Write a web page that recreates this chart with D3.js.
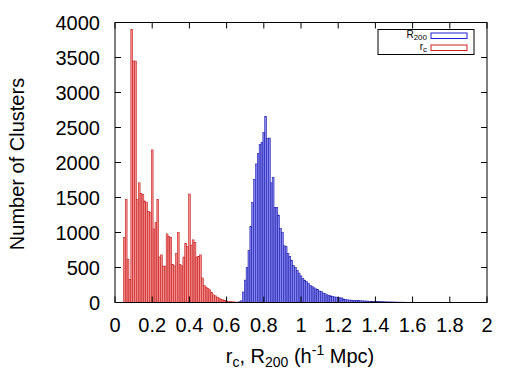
<!DOCTYPE html>
<html>
<head>
<meta charset="utf-8">
<script src="https://cdn.jsdelivr.net/npm/d3@7"></script>
<style>
  body { margin: 0; background: #fff; }
  text { font-family: "Liberation Sans", Arial, Helvetica, sans-serif; fill: #000; }
</style>
</head>
<body>
<div class="chart"></div>
<script>
// histogram bins are 0.01 wide, values are bin centres
var binWidth = 0.01;

// r_c counts, first bin centred on 0.05
var rcStart = 0.05;
var rcCounts = [930, 1470, 620, 330, 3900, 3450, 3450, 1470, 1710, 1560,
                1540, 1450, 1430, 1300, 1290, 2180, 1050, 1140, 1470, 650,
                680, 520, 520, 980, 940, 930, 540, 524, 700, 1000,
                540, 524, 650, 840, 800, 1550, 820, 895, 860, 650,
                660, 680, 350, 240, 220, 200, 180, 143, 110, 95,
                76, 62, 48, 38, 28, 20, 15, 12, 10, 8,
                6, 4];

// R200 counts, first bin centred on 0.67
var r200Start = 0.67;
var r200Counts = [10, 24, 150, 320, 500, 740, 1085, 1430, 1760, 1980,
                  2130, 2260, 2290, 2430, 2660, 2340, 2350, 1710, 1790, 1360,
                  1360, 1250, 1060, 1000, 810, 800, 700, 660, 600, 530,
                  500, 460, 420, 380, 340, 320, 300, 275, 240, 228,
                  210, 195, 185, 165, 155, 135, 125, 110, 100, 95,
                  90, 80, 76, 70, 67, 65, 50, 45, 38, 36,
                  34, 32, 30, 28, 27, 25, 24, 22, 21, 20,
                  18, 17, 16, 15, 14, 13, 12, 11, 10, 9,
                  9, 8, 7, 7, 6, 6, 5, 5, 4, 4,
                  3, 3, 2, 2];

var xTicks = [0, 0.2, 0.4, 0.6, 0.8, 1, 1.2, 1.4, 1.6, 1.8, 2];
var yTicks = [0, 500, 1000, 1500, 2000, 2500, 3000, 3500, 4000];

var W = 525, H = 391;
var margin = {top: 22.5, right: 38, bottom: 88.5, left: 115};

var svg = d3.select(".chart")
            .append("svg")
            .attr("width", W)
            .attr("height", H);

var x = d3.scaleLinear().domain([0, 2]).range([margin.left, W - margin.right]);
var y = d3.scaleLinear().domain([0, 4000]).range([H - margin.bottom, margin.top]);

function bins(start, counts) {
    return counts.map(function(c, i) {
        return {x: start + i * binWidth, n: c};
    });
}

function drawBars(data, fill, stroke) {
    svg.append("g")
        .selectAll("rect")
        .data(data)
        .enter()
        .append("rect")
        .attr("x", function(d) { return x(d.x - binWidth / 2); })
        .attr("width", function(d) { return x(binWidth) - x(0); })
        .attr("y", function(d) { return y(d.n); })
        .attr("height", function(d) { return y(0) - y(d.n); })
        .attr("fill", fill)
        .attr("stroke", stroke)
        .attr("stroke-width", 0.55);
}

drawBars(bins(rcStart, rcCounts), "#f58c8c", "#c01818");
drawBars(bins(r200Start, r200Counts), "#8282f6", "#1a1aa0");

// axes: ticks drawn inward, mirrored on top and right
var tickLen = 6;
var gAxis = svg.append("g").attr("stroke", "#000").attr("stroke-width", 1);

gAxis.selectAll("line.xb").data(xTicks).enter().append("line")
    .attr("x1", function(d) { return x(d); }).attr("x2", function(d) { return x(d); })
    .attr("y1", y(0)).attr("y2", y(0) - tickLen);
gAxis.selectAll("line.xt").data(xTicks).enter().append("line")
    .attr("x1", function(d) { return x(d); }).attr("x2", function(d) { return x(d); })
    .attr("y1", y(4000)).attr("y2", y(4000) + tickLen);
gAxis.selectAll("line.yl").data(yTicks).enter().append("line")
    .attr("x1", x(0)).attr("x2", x(0) + tickLen)
    .attr("y1", function(d) { return y(d); }).attr("y2", function(d) { return y(d); });
gAxis.selectAll("line.yr").data(yTicks).enter().append("line")
    .attr("x1", x(2)).attr("x2", x(2) - tickLen)
    .attr("y1", function(d) { return y(d); }).attr("y2", function(d) { return y(d); });

gAxis.append("rect")
    .attr("x", x(0)).attr("y", y(4000))
    .attr("width", x(2) - x(0)).attr("height", y(0) - y(4000))
    .attr("fill", "none");

// tick labels
svg.selectAll("text.xl").data(xTicks).enter().append("text")
    .attr("x", function(d) { return x(d); })
    .attr("y", y(0) + 29)
    .attr("text-anchor", "middle")
    .style("font-size", "20px")
    .text(function(d) { return d; });

svg.selectAll("text.yl").data(yTicks).enter().append("text")
    .attr("x", x(0) - 15)
    .attr("y", function(d) { return y(d) + 7; })
    .attr("text-anchor", "end")
    .style("font-size", "20px")
    .text(function(d) { return d; });

// axis titles
svg.append("text")
    .attr("transform", "translate(" + 24 + "," + 164 + ") rotate(-90)")
    .attr("text-anchor", "middle")
    .style("font-size", "20px")
    .text("Number of Clusters");

var xl = svg.append("text")
    .attr("x", 300)
    .attr("y", 363)
    .attr("text-anchor", "middle")
    .style("font-size", "20px");
xl.append("tspan").text("r");
xl.append("tspan").attr("dy", 4).style("font-size", "14px").text("c");
xl.append("tspan").attr("dy", -4).text(", R");
xl.append("tspan").attr("dy", 4).style("font-size", "14px").text("200");
xl.append("tspan").attr("dy", -4).text(" (h");
xl.append("tspan").attr("dy", -8).style("font-size", "14px").text("-1");
xl.append("tspan").attr("dy", 8).text(" Mpc)");

// legend
var leg = svg.append("g");
leg.append("rect")
    .attr("x", 378).attr("y", 29.5).attr("width", 96).attr("height", 25)
    .attr("fill", "#fff").attr("stroke", "#000").attr("stroke-width", 1);

var legItems = [
    {name: "R", sub: "200", stroke: "#2020d0"},
    {name: "r", sub: "c", stroke: "#d02020"}
];
legItems.forEach(function(d, i) {
    var yy = 36 + i * 12;
    var t = leg.append("text")
        .attr("x", 427).attr("y", yy + 1.5)
        .attr("text-anchor", "end")
        .style("font-size", "10px");
    t.append("tspan").text(d.name);
    t.append("tspan").attr("dy", 2.5).style("font-size", "8px").text(d.sub);
    leg.append("rect")
        .attr("x", 431).attr("y", yy - 3)
        .attr("width", 36).attr("height", 5.5)
        .attr("fill", "#fff").attr("stroke", d.stroke).attr("stroke-width", 1);
});
</script>
</body>
</html>
